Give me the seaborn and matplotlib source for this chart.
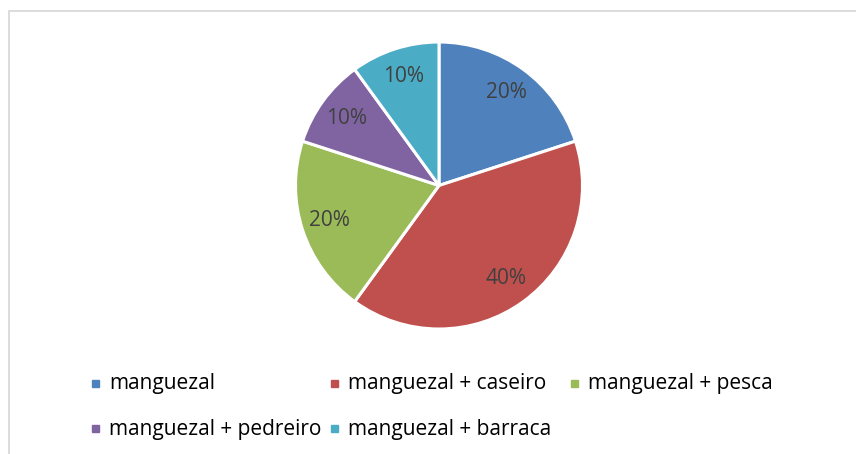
import matplotlib
matplotlib.use("Agg")
import matplotlib.pyplot as plt
import matplotlib.patches as mpatches
import seaborn as sns

sns.set_theme(style="white")
plt.rcParams['font.family'] = ['Open Sans', 'DejaVu Sans']

categorias = ["manguezal", "manguezal + caseiro", "manguezal + pesca",
              "manguezal + pedreiro", "manguezal + barraca"]
valores = [20, 40, 20, 10, 10]
cores = sns.color_palette(["#4F81BD", "#C0504D", "#9BBB59", "#8064A2", "#4BACC6"])

W, H = 856, 454
fig = plt.figure(figsize=(W / 100, H / 100), dpi=100)

# moldura cinza do gráfico
fig.patches.append(mpatches.Rectangle((9 / W, -0.1), 1.2, 1 - 11 / H + 0.1,
                                      transform=fig.transFigure, fill=False,
                                      edgecolor="#d9d9d9", linewidth=1.3))

cx, cy, r = 439, 185.5, 143.5
ax = fig.add_axes([(cx - r) / W, 1 - (cy + r) / H, 2 * r / W, 2 * r / H])
wedges, _, autotexts = ax.pie(
    valores, colors=cores, startangle=90, counterclock=False,
    autopct='%1.0f%%', pctdistance=0.8,
    textprops=dict(fontsize=15, color="#404040"),
    wedgeprops=dict(edgecolor="white", linewidth=2.2))
ax.set_xlim(-1, 1)
ax.set_ylim(-1, 1)
ax.set_aspect("equal")
ax.axis("off")

# legenda manual em grade (3 colunas)
pos = [(95, 383), (334, 383), (574, 383), (95, 428), (334, 428)]
for (x, y), lab, c in zip(pos, categorias, cores):
    fig.patches.append(mpatches.Rectangle(((x - 3.5) / W, 1 - (y + 3.5) / H), 7 / W, 7 / H,
                                          transform=fig.transFigure, color=c))
    fig.text((x + 14) / W, 1 - (y + 1) / H, lab, fontsize=15, color="#000000",
             va="center", ha="left")

fig.savefig("out.png", dpi=100)
